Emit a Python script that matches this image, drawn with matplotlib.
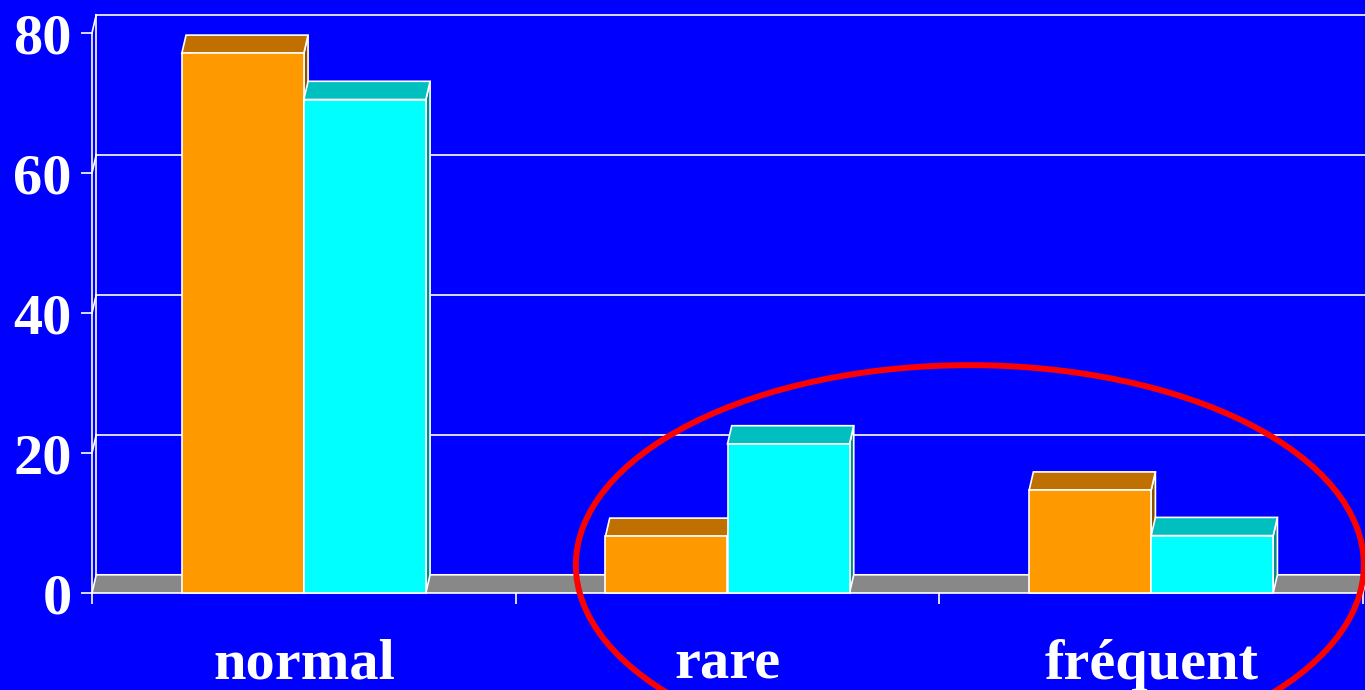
import matplotlib
matplotlib.use("Agg")
import matplotlib.pyplot as plt
from matplotlib.patches import Polygon, Rectangle, Ellipse

categories = ["normal", "rare", "fréquent"]
serie_orange = [77.1, 8.1, 14.7]
serie_cyan = [70.5, 21.3, 8.2]
yticks = [0, 20, 40, 60, 80]

BG = "#0000FF"
DX, DY = 0.01, 2.6      # décalage de profondeur (3D)
BAR_W = 0.288
EDGE = dict(edgecolor="white", linewidth=1.2, joinstyle="miter")
FONT = dict(family="Liberation Serif", weight="bold", color="white", size=42)

fig = plt.figure(figsize=(13.65, 6.9), dpi=100, facecolor=BG)
ax = fig.add_axes([92 / 1365, 97 / 690, 1271 / 1365, 560 / 690])
ax.set_facecolor(BG)
ax.set_xlim(0, 3)
ax.set_ylim(0, 80)
for s in ax.spines.values():
    s.set_visible(False)

# mur du fond et grille
for v in yticks[1:]:
    ax.plot([DX, 3.2], [v + DY, v + DY], color="white", lw=1.2, clip_on=False, zorder=1)
    ax.plot([0, DX], [v, v + DY], color="white", lw=1.2, clip_on=False, zorder=1)
ax.plot([DX, DX], [DY, 80 + DY], color="white", lw=1.2, clip_on=False, zorder=1)
ax.plot([0, 0], [0, 80], color="white", lw=1.2, clip_on=False, zorder=1)

# sol gris
floor = Polygon([(0, 0), (DX, DY), (3 + DX, DY), (3, 0)], closed=True,
                facecolor="#888888", clip_on=False, zorder=2, **EDGE)
ax.add_patch(floor)


def barre3d(x0, h, face, top, side):
    ax.add_patch(Polygon([(x0 + BAR_W, 0), (x0 + BAR_W + DX, DY),
                          (x0 + BAR_W + DX, h + DY), (x0 + BAR_W, h)],
                         closed=True, facecolor=side, clip_on=False, zorder=3, **EDGE))
    ax.add_patch(Polygon([(x0, h), (x0 + DX, h + DY),
                          (x0 + BAR_W + DX, h + DY), (x0 + BAR_W, h)],
                         closed=True, facecolor=top, clip_on=False, zorder=3, **EDGE))
    ax.add_patch(Rectangle((x0, 0), BAR_W, h, facecolor=face,
                           clip_on=False, zorder=3, **EDGE))


for i in range(len(categories)):
    c = i + 0.5
    barre3d(c - BAR_W, serie_orange[i], "#FF9900", "#C07000", "#8A5200")
    barre3d(c, serie_cyan[i], "#00FFFF", "#00BFBF", "#008C8C")

# ellipse rouge autour de rare / fréquent
ax.add_patch(Ellipse((2.072, 4.0), 1.86, 57.1, fill=False, edgecolor="red",
                     linewidth=4.3, clip_on=False, zorder=5))

# axes
ax.set_yticks(yticks)
ax.set_yticklabels([str(v) for v in yticks], fontdict=FONT)
ax.tick_params(axis="y", length=8, width=1.2, color="white", pad=6.5)

ax.set_xticks([0.5, 1.5, 2.5])
ax.set_xticklabels(categories, fontdict=FONT)
ax.set_xticks([0, 1, 2, 3], minor=True)
ax.tick_params(axis="x", which="major", length=0, pad=33)
ax.tick_params(axis="x", which="minor", length=8, width=1.2, color="white", direction="out")

fig.savefig("out.png", dpi=100, facecolor=BG)
